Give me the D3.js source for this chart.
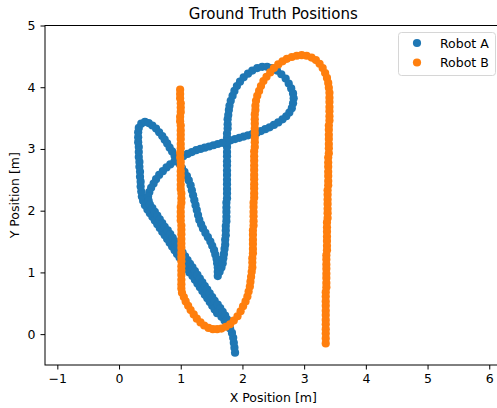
<!DOCTYPE html>
<html>
<head>
<meta charset="utf-8">
<script src="https://cdn.jsdelivr.net/npm/d3@7"></script>
<style>
  body { margin: 0; background: #fff; }
  text { font-family: 'DejaVu Sans', sans-serif; }
</style>
</head>
<body>
<svg id="chart" width="497" height="408"></svg>
<script>
const seriesNames = ['Robot A', 'Robot B'];
const seriesColors = ['#1f77b4', '#ff7f0e'];
const xTicks = [-1, 0, 1, 2, 3, 4, 5, 6];
const yTicks = [0, 1, 2, 3, 4, 5];

// [x, y] in metres
const robotA = [
  [1.88,-0.30],[1.87,-0.22],[1.86,-0.14],[1.85,-0.06],[1.83,0.02],[1.80,0.09],[1.76,0.16],[1.71,0.22],[1.66,0.28],
  [1.59,0.34],[1.55,0.40],[1.51,0.46],[1.47,0.52],[1.43,0.58],[1.39,0.64],[1.35,0.70],[1.31,0.76],[1.27,0.82],
  [1.23,0.88],[1.19,0.94],[1.14,1.00],[1.10,1.06],[1.06,1.12],[1.02,1.18],[0.98,1.24],[0.94,1.30],[0.90,1.36],
  [0.86,1.42],[0.82,1.48],[0.78,1.54],[0.74,1.60],[0.70,1.66],[0.66,1.72],[0.62,1.78],[0.58,1.84],[0.54,1.90],
  [0.50,1.96],[0.46,2.02],[0.42,2.09],[0.39,2.16],[0.37,2.23],
  [0.36,2.31],[0.35,2.39],[0.35,2.47],[0.34,2.55],[0.34,2.63],[0.33,2.71],[0.33,2.79],[0.32,2.87],[0.32,2.95],
  [0.32,3.03],[0.31,3.11],[0.31,3.19],[0.31,3.27],[0.32,3.34],
  [0.36,3.41],[0.42,3.44],[0.48,3.42],[0.54,3.38],[0.60,3.33],[0.65,3.27],[0.70,3.21],[0.74,3.15],[0.78,3.09],
  [0.82,3.02],[0.86,2.96],[0.90,2.89],[0.94,2.83],[0.98,2.76],[1.02,2.69],[1.06,2.63],[1.10,2.56],[1.13,2.49],
  [1.16,2.41],[1.18,2.33],[1.20,2.25],[1.22,2.17],[1.24,2.09],[1.26,2.01],[1.28,1.93],[1.30,1.85],[1.33,1.78],
  [1.36,1.71],[1.40,1.64],[1.44,1.57],[1.48,1.50],[1.51,1.43],[1.54,1.36],[1.56,1.29],[1.58,1.22],[1.59,1.15],
  [1.60,1.08],[1.60,1.01],[1.60,0.94],
  [1.63,1.01],[1.66,1.08],[1.68,1.15],[1.69,1.23],[1.70,1.30],[1.71,1.38],[1.72,1.45],[1.72,1.53],[1.73,1.60],
  [1.73,1.68],[1.73,1.75],[1.74,1.83],[1.74,1.90],[1.74,1.98],[1.74,2.05],[1.74,2.13],[1.75,2.20],[1.75,2.28],
  [1.75,2.35],[1.75,2.43],[1.75,2.50],[1.75,2.58],[1.75,2.65],[1.75,2.73],[1.75,2.80],[1.75,2.88],[1.75,2.95],
  [1.75,3.03],[1.75,3.10],[1.75,3.18],[1.75,3.25],[1.76,3.33],[1.76,3.40],[1.76,3.48],[1.77,3.55],[1.78,3.63],
  [1.79,3.70],[1.81,3.78],[1.84,3.86],[1.87,3.94],[1.91,4.02],[1.96,4.09],[2.02,4.16],[2.09,4.22],[2.16,4.27],
  [2.24,4.31],[2.32,4.33],[2.40,4.33],[2.48,4.31],[2.56,4.27],[2.63,4.21],[2.70,4.14],[2.75,4.06],[2.79,3.98],
  [2.82,3.90],[2.83,3.82],[2.82,3.74],[2.80,3.66],[2.76,3.59],[2.71,3.53],[2.65,3.48],[2.58,3.43],[2.51,3.39],
  [2.44,3.35],[2.37,3.32],[2.30,3.29],[2.23,3.26],[2.16,3.24],[2.09,3.22],[2.02,3.20],[1.95,3.18],[1.88,3.16],
  [1.81,3.14],[1.74,3.12],[1.67,3.10],[1.60,3.08],[1.53,3.06],[1.46,3.04],[1.39,3.02],[1.32,3.00],[1.25,2.98],
  [1.18,2.95],[1.11,2.92],[1.04,2.88],[0.97,2.84],[0.90,2.80],[0.83,2.75],[0.77,2.70],[0.71,2.64],[0.65,2.58],
  [0.60,2.51],[0.56,2.44],[0.52,2.37],[0.49,2.30],[0.47,2.23],
  [0.48,2.16],[0.50,2.10],[0.54,2.04],[0.58,1.98],[0.62,1.92],[0.66,1.86],[0.70,1.80],[0.74,1.74],[0.79,1.68],
  [0.83,1.62],[0.87,1.56],[0.91,1.50],[0.95,1.44],[0.99,1.38],[1.03,1.32],[1.07,1.26],[1.11,1.20],[1.15,1.14],
  [1.19,1.08],[1.23,1.02],[1.27,0.96],[1.31,0.90],[1.35,0.84],[1.39,0.78],[1.43,0.72],[1.47,0.66],[1.51,0.60],
  [1.55,0.54],[1.60,0.48],[1.64,0.42],[1.68,0.36],[1.72,0.30],[1.75,0.24]
];

const robotB = [
  [0.99,3.96],[0.99,3.89],[0.99,3.82],[1.00,3.74],[1.00,3.67],[1.00,3.60],[0.99,3.52],[0.99,3.45],[1.00,3.38],
  [1.00,3.30],[1.00,3.23],[1.00,3.16],[1.00,3.08],[1.00,3.01],[0.99,2.94],[0.99,2.86],[1.00,2.79],[1.00,2.72],
  [1.00,2.64],[1.00,2.57],[1.00,2.50],[1.00,2.42],[1.00,2.35],[1.01,2.28],[1.01,2.20],[1.01,2.13],[1.00,2.06],
  [1.00,1.98],[1.00,1.91],[1.00,1.84],[1.01,1.76],[1.01,1.69],[1.01,1.62],[1.01,1.54],[1.01,1.47],[1.01,1.40],
  [1.01,1.32],[1.01,1.25],[1.01,1.18],[1.01,1.10],[1.01,1.03],[1.01,0.96],[1.01,0.88],[1.01,0.81],[1.01,0.74],
  [1.02,0.67],[1.05,0.60],[1.08,0.53],[1.12,0.46],[1.16,0.39],[1.21,0.32],[1.26,0.25],[1.32,0.19],[1.38,0.14],
  [1.45,0.10],[1.52,0.08],[1.59,0.08],[1.66,0.09],[1.73,0.12],[1.80,0.16],[1.86,0.22],[1.92,0.29],[1.97,0.37],
  [2.01,0.45],[2.05,0.53],[2.08,0.61],[2.10,0.69],[2.12,0.77],[2.13,0.85],[2.14,0.93],[2.15,1.01],
  [2.16,1.08],[2.16,1.16],[2.16,1.23],[2.17,1.31],[2.17,1.38],[2.17,1.46],[2.17,1.53],[2.17,1.61],[2.17,1.68],
  [2.18,1.76],[2.18,1.83],[2.18,1.91],[2.18,1.98],[2.18,2.06],[2.18,2.13],[2.19,2.21],[2.19,2.28],[2.19,2.36],
  [2.19,2.43],[2.19,2.51],[2.19,2.58],[2.19,2.66],[2.19,2.73],[2.19,2.81],[2.19,2.88],[2.19,2.96],[2.20,3.03],
  [2.20,3.11],[2.20,3.18],[2.20,3.26],[2.20,3.33],[2.20,3.41],[2.20,3.48],[2.20,3.56],[2.21,3.63],[2.21,3.70],
  [2.22,3.78],[2.24,3.86],[2.27,3.94],[2.30,4.02],[2.34,4.10],[2.39,4.17],[2.45,4.24],[2.51,4.31],[2.58,4.37],
  [2.65,4.42],[2.72,4.46],[2.80,4.49],[2.88,4.51],[2.96,4.52],[3.04,4.51],[3.12,4.48],[3.19,4.44],[3.25,4.38],
  [3.30,4.31],[3.34,4.23],[3.37,4.15],[3.39,4.07],[3.40,3.99],[3.41,3.91],
  [3.41,3.83],[3.41,3.76],[3.41,3.68],[3.41,3.61],[3.41,3.53],[3.41,3.46],[3.40,3.38],[3.40,3.31],[3.40,3.23],
  [3.40,3.16],[3.40,3.08],[3.40,3.01],[3.40,2.93],[3.39,2.86],[3.39,2.78],[3.39,2.71],[3.39,2.63],[3.39,2.56],
  [3.39,2.48],[3.39,2.41],[3.38,2.33],[3.38,2.26],[3.38,2.18],[3.38,2.11],[3.38,2.03],[3.38,1.96],[3.38,1.88],
  [3.37,1.81],[3.37,1.73],[3.37,1.66],[3.37,1.58],[3.37,1.51],[3.37,1.43],[3.37,1.36],[3.36,1.28],[3.36,1.21],
  [3.36,1.13],[3.36,1.06],[3.36,0.98],[3.36,0.91],[3.36,0.83],[3.36,0.76],[3.35,0.68],[3.35,0.61],[3.35,0.53],
  [3.35,0.46],[3.35,0.38],[3.35,0.31],[3.35,0.23],[3.35,0.16],[3.35,0.08],[3.35,0.01],[3.35,-0.07],[3.35,-0.15]
];

const svg = d3.select('#chart');
const plotLeft = 45, plotRight = 501.6, plotTop = 25.5, plotBottom = 365;

const xScale = d3.scaleLinear().domain([-1.2, 6.2]).range([plotLeft, plotRight]);
const yScale = d3.scaleLinear().domain([-0.5, 5]).range([plotBottom, plotTop]);

// points, robot A first so robot B sits on top
[robotA, robotB].forEach((pts, i) => {
  svg.append('g')
    .selectAll('circle')
    .data(pts)
    .join('circle')
    .attr('cx', d => xScale(d[0]))
    .attr('cy', d => yScale(d[1]))
    .attr('r', 4.1)
    .attr('fill', seriesColors[i]);
});

// spines
svg.append('rect')
  .attr('x', plotLeft)
  .attr('y', plotTop)
  .attr('width', plotRight - plotLeft)
  .attr('height', plotBottom - plotTop)
  .attr('fill', 'none')
  .attr('stroke', '#000')
  .attr('stroke-width', 1);

// axes
const xAxis = svg.append('g')
  .attr('transform', `translate(0,${plotBottom})`)
  .call(d3.axisBottom(xScale).tickValues(xTicks).tickSize(4.5).tickPadding(5).tickFormat(d3.format('d')));
const yAxis = svg.append('g')
  .attr('transform', `translate(${plotLeft},0)`)
  .call(d3.axisLeft(yScale).tickValues(yTicks).tickSize(4.5).tickPadding(5).tickFormat(d3.format('d')));

[xAxis, yAxis].forEach(g => {
  g.select('.domain').remove();
  g.selectAll('text').attr('font-size', 12.5).attr('fill', '#000').attr('font-family', 'DejaVu Sans');
  g.selectAll('line').attr('stroke', '#000');
});

// title and labels
svg.append('text')
  .attr('x', (plotLeft + plotRight) / 2)
  .attr('y', 18.5)
  .attr('text-anchor', 'middle')
  .attr('font-size', 15)
  .text('Ground Truth Positions');

svg.append('text')
  .attr('x', (plotLeft + plotRight) / 2)
  .attr('y', 402)
  .attr('text-anchor', 'middle')
  .attr('font-size', 12.5)
  .text('X Position [m]');

svg.append('text')
  .attr('transform', `translate(19,${(plotTop + plotBottom) / 2}) rotate(-90)`)
  .attr('text-anchor', 'middle')
  .attr('font-size', 12.5)
  .text('Y Position [m]');

// legend
const legend = svg.append('g');
legend.append('rect')
  .attr('x', 398.5)
  .attr('y', 32.5)
  .attr('width', 97)
  .attr('height', 43)
  .attr('rx', 3)
  .attr('fill', '#fff')
  .attr('fill-opacity', 0.8)
  .attr('stroke', '#d6d6d6');

seriesNames.forEach((name, i) => {
  const cy = 43 + i * 19.5;
  legend.append('circle')
    .attr('cx', 417)
    .attr('cy', cy)
    .attr('r', 4.1)
    .attr('fill', seriesColors[i]);
  legend.append('text')
    .attr('x', 440)
    .attr('y', cy)
    .attr('dy', '0.36em')
    .attr('font-size', 12.5)
    .text(name);
});
</script>
</body>
</html>
